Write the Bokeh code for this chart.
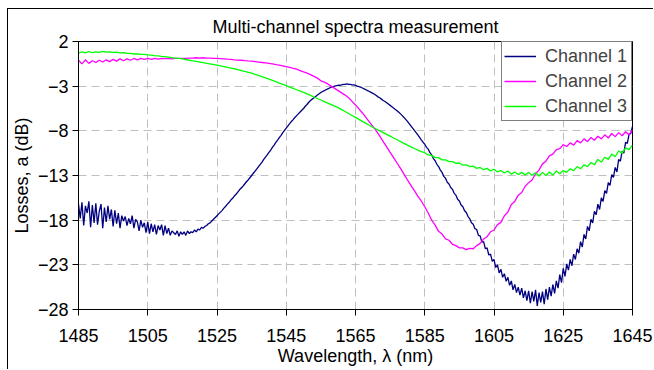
import numpy as np
from bokeh.plotting import figure
from bokeh.models import Range1d, FixedTicker, Legend, LegendItem
from bokeh.embed import file_html
from bokeh.resources import INLINE

# ---------------- data ----------------
x_ticks = [1485, 1505, 1525, 1545, 1565, 1585, 1605, 1625, 1645]
y_ticks = [-28, -23, -18, -13, -8, -3, 2]
series_names = ["Channel 1", "Channel 2", "Channel 3"]

# Channel 1 sampled every 0.5 nm from 1485 to 1645
wl_ch1 = np.arange(1485.0, 1645.01, 0.5)
ch1 = [
    -16.2, -17.8, -16.0, -18.6, -16.4, -17.2, -15.9, -18.8, -16.3, -18.3,
    -16.1, -18.5, -17.0, -16.2, -18.9, -16.6, -18.2, -16.4, -17.9, -16.8,
    -18.7, -16.9, -18.4, -17.2, -18.9, -17.5, -18.1, -17.6, -18.6, -17.8,
    -18.4, -17.5, -18.9, -17.9, -18.2, -19.2, -18.0, -18.8, -18.3, -19.4,
    -18.2, -19.5, -18.4, -19.3, -18.5, -19.6, -18.6, -19.1, -18.5, -19.7,
    -18.6, -19.5, -18.9, -19.7, -19.2, -19.4, -19.6, -19.2, -19.8, -19.3,
    -19.6, -19.3, -19.7, -19.2, -19.5, -19.3, -19.4, -19.1, -19.3, -19.0,
    -19.1, -18.8, -18.9, -18.7, -18.6, -18.4, -18.3, -18.1, -17.9, -17.7,
    -17.5, -17.3, -17.1, -16.9, -16.65, -16.45, -16.2, -16.0, -15.75, -15.55,
    -15.3, -15.1, -14.85, -14.6, -14.4, -14.2, -13.95, -13.7, -13.5, -13.25,
    -13.0, -12.75, -12.5, -12.25, -12.0, -11.75, -11.5, -11.2, -10.95, -10.7,
    -10.4, -10.15, -9.85, -9.6, -9.3, -9.05, -8.75, -8.5, -8.2, -7.95,
    -7.7, -7.45, -7.2, -6.95, -6.75, -6.5, -6.3, -6.1, -5.9, -5.7,
    -5.5, -5.25, -5.05, -4.8, -4.6, -4.45, -4.3, -4.15, -4.0, -3.85,
    -3.7, -3.6, -3.5, -3.4, -3.3, -3.2, -3.1, -3.05, -3.0, -2.95,
    -2.9, -2.9, -2.85, -2.8, -2.8, -2.75, -2.8, -2.8, -2.85, -2.85,
    -2.9, -3.0, -3.05, -3.1, -3.2, -3.3, -3.4, -3.5, -3.6, -3.7,
    -3.8, -3.9, -4.05, -4.2, -4.3, -4.45, -4.6, -4.72, -4.85, -5.0,
    -5.15, -5.3, -5.45, -5.6, -5.75, -5.92, -6.1, -6.3, -6.5, -6.72,
    -6.95, -7.2, -7.45, -7.7, -7.95, -8.2, -8.45, -8.72, -9.0, -9.27,
    -9.5, -9.85, -10.05, -10.45, -10.7, -11.1, -11.35, -11.75, -12.0, -12.4,
    -12.65, -13.1, -13.3, -13.75, -13.95, -14.35, -14.55, -15.0, -15.2, -15.65,
    -15.85, -16.3, -16.5, -16.95, -17.15, -17.6, -17.85, -18.3, -18.45, -18.95,
    -19.05, -19.7, -19.75, -20.45, -20.4, -21.2, -21.1, -21.9, -21.8, -22.6,
    -22.4, -23.3, -23.0, -23.9, -23.5, -24.4, -24.0, -24.85, -24.4, -25.3,
    -24.8, -25.8, -25.2, -26.1, -25.5, -26.4, -25.6, -26.7, -25.9, -27.0,
    -25.9, -27.3, -26.0, -27.1, -25.8, -27.6, -26.1, -27.2, -26.0, -27.4,
    -25.7, -26.9, -25.5, -26.5, -25.2, -26.2, -24.8, -25.6, -24.1, -25.0,
    -23.4, -24.3, -22.9, -23.6, -22.4, -23.1, -21.8, -22.4, -21.2, -21.7,
    -20.4, -21.0, -19.6, -20.1, -18.7, -19.2, -17.9, -18.3, -17.0, -17.4,
    -16.2, -16.8, -15.5, -15.9, -14.7, -15.0, -13.8, -14.1, -12.9, -13.2,
    -12.1, -12.6, -11.2, -11.4, -10.3, -10.5, -9.3, -9.4, -8.4, -8.3,
    -7.5,
]

# Channels 2 and 3 sampled every 1 nm from 1485 to 1645
wl_ch23 = np.arange(1485, 1646, 1)
ch2 = [
    -0.1, -0.5, -0.05, -0.45, -0.15, -0.35, -0.1, -0.3, -0.05, -0.25,
    0.0, -0.2, 0.05, -0.15, 0.05, -0.1, 0.1, -0.05, 0.1, 0.0,
    0.1, 0.0, 0.12, 0.02, 0.12, 0.08, 0.1, 0.05, 0.12, 0.1,
    0.1, 0.12, 0.15, 0.15, 0.18, 0.15, 0.18, 0.15, 0.15, 0.12,
    0.1, 0.08, 0.05, 0.02, 0.0, -0.05, -0.08, -0.1, -0.15, -0.18,
    -0.2, -0.25, -0.3, -0.35, -0.4, -0.45, -0.5, -0.6, -0.65, -0.72,
    -0.8, -0.9, -1.0, -1.1, -1.25, -1.4, -1.55, -1.7, -1.9, -2.1,
    -2.4, -2.55, -2.75, -3.0, -3.25, -3.5, -3.75, -4.0, -4.3, -4.7,
    -5.1, -5.55, -6.0, -6.5, -7.0, -7.5, -8.0, -8.6, -9.2, -9.8,
    -10.4, -11.0, -11.6, -12.2, -12.85, -13.5, -14.1, -14.7, -15.3, -15.85,
    -16.5, -17.2, -18.0, -18.55, -19.25, -19.55, -20.1, -20.25, -20.7, -20.85,
    -21.1, -21.1, -21.3, -21.15, -21.2, -20.85, -20.6, -20.1, -19.85, -19.3,
    -19.1, -18.5, -18.25, -17.5, -17.1, -16.25, -15.9, -15.2, -14.9, -14.2,
    -13.8, -13.5, -12.8, -12.4, -11.7, -11.4, -10.8, -10.6, -10.1, -10.0,
    -9.55, -9.75, -9.35, -9.6, -9.1, -9.35, -8.9, -9.2, -8.75, -9.05,
    -8.6, -8.9, -8.45, -8.8, -8.3, -8.65, -8.2, -8.55, -8.1, -8.45,
    -7.9,
]
ch3 = [
    0.7, 0.85, 0.72, 0.88, 0.75, 0.85, 0.78, 0.9, 0.8, 0.85,
    0.78, 0.82, 0.72, 0.76, 0.66, 0.68, 0.6, 0.62, 0.55, 0.55,
    0.5, 0.47, 0.42, 0.4, 0.34, 0.3, 0.26, 0.2, 0.15, 0.1,
    0.05, -0.02, -0.1, -0.16, -0.23, -0.3, -0.37, -0.44, -0.51, -0.58,
    -0.65, -0.73, -0.81, -0.89, -0.97, -1.05, -1.15, -1.25, -1.35, -1.45,
    -1.55, -1.68, -1.8, -1.93, -2.06, -2.2, -2.35, -2.5, -2.65, -2.8,
    -2.95, -3.1, -3.25, -3.4, -3.55, -3.7, -3.87, -4.04, -4.21, -4.38,
    -4.55, -4.72, -4.89, -5.06, -5.23, -5.4, -5.62, -5.84, -6.06, -6.28,
    -6.5, -6.72, -6.94, -7.16, -7.38, -7.6, -7.8, -8.0, -8.2, -8.4,
    -8.6, -8.8, -9.0, -9.2, -9.4, -9.6, -9.8, -9.98, -10.16, -10.33,
    -10.45, -10.7, -10.75, -11.0, -11.0, -11.25, -11.25, -11.45, -11.45, -11.65,
    -11.6, -11.85, -11.8, -12.0, -11.95, -12.2, -12.1, -12.35, -12.2, -12.48,
    -12.3, -12.6, -12.45, -12.72, -12.5, -12.85, -12.6, -12.9, -12.65, -12.95,
    -12.65, -13.0, -12.7, -13.05, -12.65, -13.0, -12.6, -12.95, -12.5, -12.8,
    -12.45, -12.65, -12.25, -12.45, -12.0, -12.25, -11.8, -12.0, -11.55, -11.8,
    -11.2, -11.5, -10.95, -11.2, -10.6, -10.9, -10.25, -10.5, -9.9, -10.1,
    -9.6,
]

colors = ["#000080", "#FF00FF", "#00FF00"]

# ---------------- figure ----------------
FONT = "Liberation Sans"
FS = "18px"
p = figure(width=646, height=361,
           x_range=Range1d(1485, 1645), y_range=Range1d(-28, 2),
           output_backend="svg", toolbar_location=None,
           min_border_left=60, min_border_right=22,
           min_border_top=31, min_border_bottom=61)
p.styles = {"margin-left": "7px", "margin-top": "8px",
            "border-left": "1px solid #000", "border-top": "1px solid #000"}

p.title.text = "Multi-channel spectra measurement"
p.title.align = "center"
p.title.text_font = FONT
p.title.text_font_size = FS
p.title.text_font_style = "normal"
p.title.text_color = "black"

p.outline_line_color = "black"
p.outline_line_width = 1
p.background_fill_color = "white"
p.border_fill_color = "white"

for ax, ticks in ((p.xaxis[0], x_ticks), (p.yaxis[0], y_ticks)):
    ax.ticker = FixedTicker(ticks=ticks)
    ax.minor_tick_line_color = None
    ax.major_tick_in = 0
    ax.major_tick_out = 6
    ax.major_tick_line_color = "black"
    ax.axis_line_color = "black"
    ax.major_label_text_font = FONT
    ax.major_label_text_font_size = FS
    ax.major_label_text_color = "black"
    ax.axis_label_text_font = FONT
    ax.axis_label_text_font_size = FS
    ax.axis_label_text_font_style = "normal"
    ax.axis_label_text_color = "black"

p.xaxis.axis_label = "Wavelength, λ (nm)"
p.yaxis.axis_label = "Losses, a (dB)"
p.xaxis.major_label_standoff = 13
p.xaxis.axis_label_standoff = 1
p.yaxis.major_label_standoff = 4
p.yaxis.axis_label_standoff = 3

p.grid.grid_line_color = "#bfbfbf"
p.grid.grid_line_dash = "8 5"
p.grid.grid_line_width = 1

r1 = p.line(wl_ch1, ch1, line_color=colors[0], line_width=1.3)
r2 = p.line(wl_ch23, ch2, line_color=colors[1], line_width=1.3)
r3 = p.line(wl_ch23, ch3, line_color=colors[2], line_width=1.3)

legend = Legend(items=[LegendItem(label=series_names[0], renderers=[r1]),
                       LegendItem(label=series_names[1], renderers=[r2]),
                       LegendItem(label=series_names[2], renderers=[r3])],
                location="top_right", margin=0, padding=2, spacing=1,
                label_height=24, glyph_height=24, glyph_width=32,
                label_standoff=9, label_width=84,
                label_text_font=FONT, label_text_font_size=FS,
                border_line_color="black", border_line_width=1,
                background_fill_color="white", background_fill_alpha=1)
p.add_layout(legend, "center")

open("out.html", "w").write(file_html(p, INLINE))
